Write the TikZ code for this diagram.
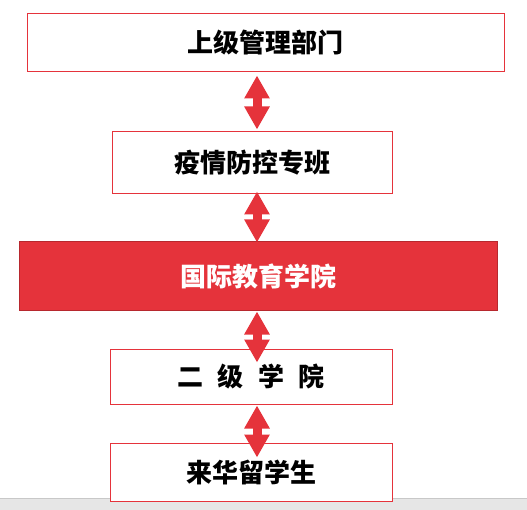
\documentclass[tikz,border=0pt]{standalone}
\usepackage{fontspec}
\setmainfont{Noto Sans CJK SC}
\usetikzlibrary{arrows.meta,calc}
\definecolor{ired}{HTML}{E5333B}
\definecolor{iredd}{HTML}{B7282E}
\definecolor{bargray}{HTML}{E6E6E6}
\definecolor{barline}{HTML}{C8C8C8}
\tikzset{
  box/.style={draw=ired,line width=1pt,fill=white,rectangle,inner sep=0pt,
    font=\fontsize{26}{30}\selectfont\bfseries,text=black},
  redbox/.style={box,draw=iredd,fill=ired,text=white},
  arr/.style={draw=ired,line width=9pt,
    {Triangle[width=24pt,length=23pt]}-{Triangle[width=24pt,length=23pt]}}
}
\begin{document}
\begin{tikzpicture}[x=1pt,y=-1pt]
\useasboundingbox (0,0) rectangle (527,510);
\fill[bargray] (0,498) rectangle (527,510);
\draw[barline,line width=1pt] (0,498) -- (527,498);
\coordinate (ax) at (257,0);
\node[box,minimum width=477pt,minimum height=58pt] (b1) at (265.5,43) {上级管理部门};
\node[box,minimum width=280pt,minimum height=62pt] (b2) at (252,163) {疫情防控专班};
\node[redbox,minimum width=478pt,minimum height=69pt] (b3) at (258,276.5) {国际教育学院};
\node[box,minimum width=282pt,minimum height=55pt] (b4) at (251,376.5) {二\kern.55em 级\kern.55em 学\kern.55em 院};
\node[box,minimum width=282pt,minimum height=58pt] (b5) at (251,472) {来华留学生};
\draw[arr] ($(b1.south -| ax)+(0,3)$) -- ($(b2.north -| ax)+(0,-2)$);
\draw[arr] ($(b2.south -| ax)+(0,-3)$) -- ($(b3.north -| ax)+(0,1)$);
\draw[arr] ($(b3.south -| ax)+(0,0)$) -- ($(b4.north -| ax)+(0,14)$);
\draw[arr] ($(b4.south -| ax)+(0,1)$) -- ($(b5.north -| ax)+(0,15)$);
\end{tikzpicture}
\end{document}
